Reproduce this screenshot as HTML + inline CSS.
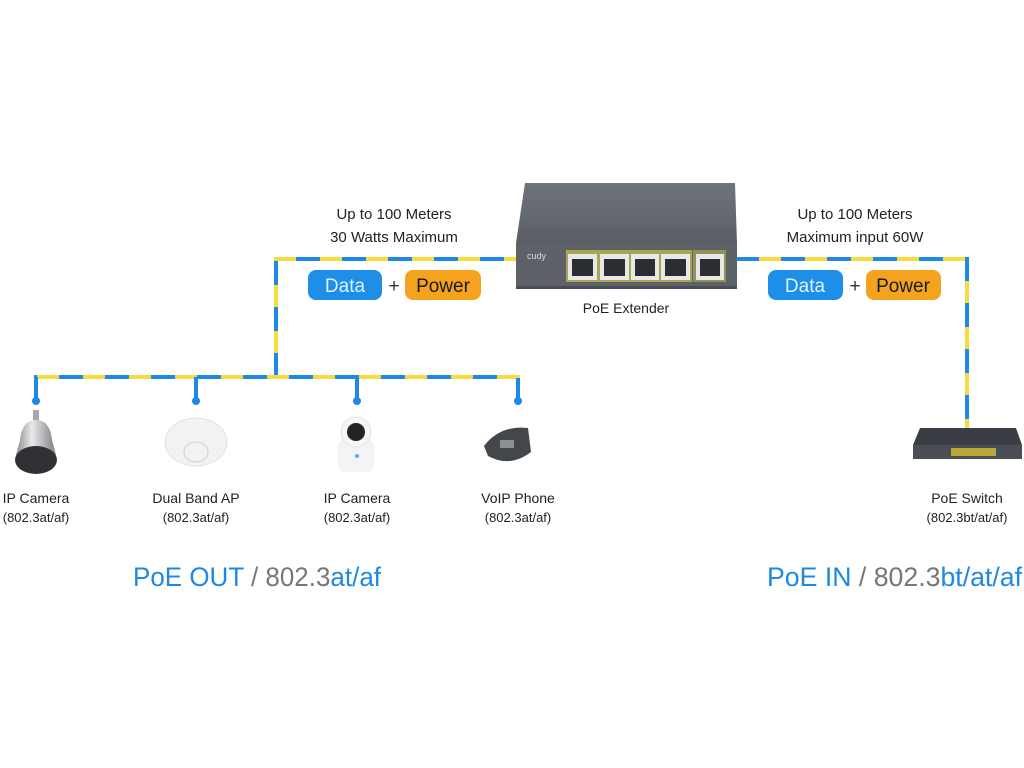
<!DOCTYPE html>
<html><head><meta charset="utf-8"><style>
html,body{margin:0;padding:0;background:#fff;}
svg{display:block;}
text{font-family:"Liberation Sans",sans-serif;}
</style></head><body>
<svg width="1024" height="768" viewBox="0 0 1024 768" xmlns="http://www.w3.org/2000/svg">
<defs>
<linearGradient id="top" x1="0" y1="0" x2="0" y2="1"><stop offset="0" stop-color="#6f747b"/><stop offset="1" stop-color="#5a5f66"/></linearGradient>
<linearGradient id="dome" x1="0" y1="0" x2="1" y2="0"><stop offset="0" stop-color="#8a8d90"/><stop offset="0.4" stop-color="#e8e9ea"/><stop offset="1" stop-color="#7b7e82"/></linearGradient>
</defs>
<g fill="none" stroke-width="4">
<path id="p1" d="M276 377 V259 H518" stroke="#f6dc3c"/>
<path d="M276 377 V259 H518" stroke="#1e88e5" stroke-dasharray="24 22"/>
<path d="M735 259 H967 V428" stroke="#f6dc3c"/>
<path d="M735 259 H967 V428" stroke="#1e88e5" stroke-dasharray="24 22"/>
<path d="M36 400 V377 H518 V400" stroke="#f6dc3c"/>
<path d="M36 400 V377 H518 V400" stroke="#1e88e5" stroke-dasharray="24 22"/>
<path d="M196 377 V398 M357 377 V398" stroke="#1e88e5"/>
</g>
<g fill="#1e88e5"><circle cx="36" cy="401" r="4"/><circle cx="196" cy="401" r="4"/><circle cx="357" cy="401" r="4"/><circle cx="518" cy="401" r="4"/></g>

<!-- extender -->
<polygon points="525,183 735,183 737,243 516,243" fill="url(#top)"/>
<rect x="516" y="243" width="221" height="46" fill="#5d6269"/>
<rect x="516" y="286" width="221" height="3" fill="#4a4e54"/>
<text x="527" y="259" font-size="9" fill="#d8dadc">cudy</text>
<rect x="566" y="250" width="126" height="32" fill="#c9c24a" opacity="0.7"/>
<rect x="693" y="250" width="33" height="32" fill="#c9c24a" opacity="0.5"/>
<g fill="#e8e8e8"><rect x="568" y="254" width="29" height="26"/><rect x="600" y="254" width="29" height="26"/><rect x="631" y="254" width="28" height="26"/><rect x="661" y="254" width="29" height="26"/><rect x="696" y="254" width="28" height="26"/></g>
<g fill="#2a2d31"><rect x="572" y="259" width="21" height="17"/><rect x="604" y="259" width="21" height="17"/><rect x="635" y="259" width="20" height="17"/><rect x="665" y="259" width="21" height="17"/><rect x="700" y="259" width="20" height="17"/></g>

<g font-size="15" fill="#222" text-anchor="middle">
<text x="394" y="219">Up to 100 Meters</text>
<text x="394" y="242">30 Watts Maximum</text>
<text x="855" y="219">Up to 100 Meters</text>
<text x="855" y="242">Maximum input 60W</text>
<text x="626" y="313" font-size="14">PoE Extender</text>
</g>
<g>
<rect x="308" y="270" width="74" height="30" rx="8" fill="#1e8fe8"/>
<rect x="405" y="270" width="76" height="30" rx="8" fill="#f5a31e"/>
<rect x="768" y="270" width="75" height="30" rx="8" fill="#1e8fe8"/>
<rect x="866" y="270" width="75" height="30" rx="8" fill="#f5a31e"/>
<g font-size="19" text-anchor="middle">
<text x="345" y="292" fill="#dff2ff">Data</text>
<text x="394" y="292" fill="#333">+</text>
<text x="443" y="292" fill="#1a1a1a">Power</text>
<text x="805" y="292" fill="#dff2ff">Data</text>
<text x="855" y="292" fill="#333">+</text>
<text x="903" y="292" fill="#1a1a1a">Power</text>
</g>
</g>

<!-- devices -->
<rect x="33" y="410" width="6" height="12" fill="#aaa"/>
<path d="M20 440 Q22 420 36 420 Q50 420 52 440 L56 455 L16 455 Z" fill="url(#dome)"/>
<ellipse cx="36" cy="460" rx="21" ry="14" fill="#2f3134"/>
<ellipse cx="196" cy="442" rx="31" ry="24" fill="#f1f2f3" stroke="#e0e2e4"/>
<ellipse cx="196" cy="452" rx="12" ry="10" fill="none" stroke="#cfd2d5"/>
<rect x="338" y="440" width="36" height="32" rx="6" fill="#f3f4f5"/>
<circle cx="356" cy="432" r="15" fill="#f6f6f6" stroke="#e3e3e3"/>
<circle cx="356" cy="432" r="9" fill="#222"/>
<circle cx="357" cy="456" r="2" fill="#5fa8f0"/>
<path d="M484 446 Q500 425 528 428 L531 452 Q510 468 488 456 Z" fill="#43474c"/>
<rect x="500" y="440" width="14" height="8" fill="#8a9096"/>

<!-- switch -->
<polygon points="920,428 1016,428 1022,445 913,445" fill="#3a3e44"/>
<rect x="913" y="445" width="109" height="14" fill="#4a4e55"/>
<rect x="951" y="448" width="45" height="8" fill="#b8a83a"/>

<g font-size="14" fill="#222" text-anchor="middle">
<text x="36" y="503">IP Camera</text><text x="36" y="522" font-size="13">(802.3at/af)</text>
<text x="196" y="503">Dual Band AP</text><text x="196" y="522" font-size="13">(802.3at/af)</text>
<text x="357" y="503">IP Camera</text><text x="357" y="522" font-size="13">(802.3at/af)</text>
<text x="518" y="503">VoIP Phone</text><text x="518" y="522" font-size="13">(802.3at/af)</text>
<text x="967" y="503">PoE Switch</text><text x="967" y="522" font-size="13">(802.3bt/at/af)</text>
</g>
<text x="133" y="586" font-size="27" fill="#1e88e5" textLength="248" lengthAdjust="spacingAndGlyphs">PoE OUT <tspan fill="#777">/ 802.3</tspan>at/af</text>
<text x="767" y="586" font-size="27" fill="#1e88e5" textLength="255" lengthAdjust="spacingAndGlyphs">PoE IN <tspan fill="#777">/ 802.3</tspan>bt/at/af</text>
</svg>
</body></html>
